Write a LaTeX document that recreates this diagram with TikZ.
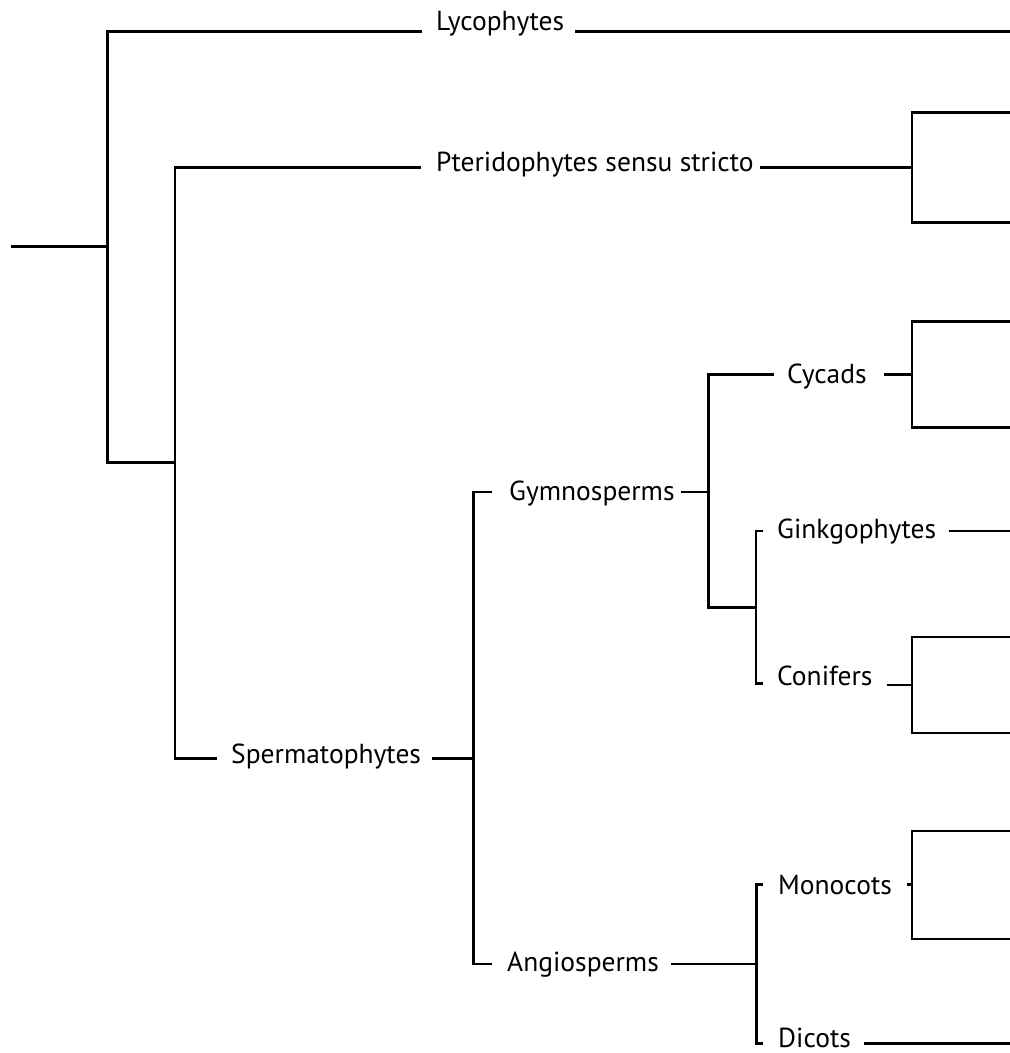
\documentclass[tikz,border=0pt]{standalone}
\usepackage{fontspec}
\setmainfont{PT Sans}
\begin{document}
\begin{tikzpicture}[x=1pt,y=-1pt,
  br/.style={line width=2.8pt,line join=miter,line cap=butt},
  lab/.style={inner sep=0pt,anchor=base west,font=\fontsize{27.5}{32}\selectfont}]
\useasboundingbox (0,0) rectangle (1010,1053);
% junctions
\coordinate (root) at (11,246.7);
\coordinate (a) at (107.3,246.7);
\coordinate (aT) at (107.3,31.7);
\coordinate (aB) at (107.3,462.7);
\coordinate (b) at (175,462.7);
\coordinate (bT) at (175,167.5);
\coordinate (bB) at (175,758.5);
\coordinate (c) at (473.5,758.5);
\coordinate (cT) at (473.5,492);
\coordinate (cB) at (473.5,964);
\coordinate (d) at (708.3,492);
\coordinate (dT) at (708.3,374.3);
\coordinate (dB) at (708.3,607.7);
\coordinate (e) at (756,607.7);
\coordinate (eT) at (756,531);
\coordinate (eB) at (756,683.5);
\coordinate (f) at (756.7,964);
\coordinate (fT) at (756.7,884.3);
\coordinate (fB) at (756.7,1043.5);
% right ends
\coordinate (lycoEnd) at (1010,31.7);
\coordinate (ginkEnd) at (1010,531);
\coordinate (dicEnd) at (1010,1043.5);
\coordinate (pB) at (912,167.5);
\coordinate (pTop) at (1010,112.5);
\coordinate (pBot) at (1010,222.5);
\coordinate (cyB) at (912,374.3);
\coordinate (cyTop) at (1010,321.7);
\coordinate (cyBot) at (1010,427.3);
\coordinate (coB) at (912,685);
\coordinate (coTop) at (1010,637);
\coordinate (coBot) at (1010,733);
\coordinate (moB) at (912,884.3);
\coordinate (moTop) at (1010,831);
\coordinate (moBot) at (1010,939);
% labels
\node[lab] (lyco) at (436,30.7) {Lycophytes};
\node[lab] (pter) at (436,171.7) {Pteridophytes sensu stricto};
\node[lab] (sperm) at (231,763) {Spermatophytes};
\node[lab] (gymno) at (509,500.7) {Gymnosperms};
\node[lab] (angio) at (507,971.7) {Angiosperms};
\node[lab] (cyc) at (787,383.3) {Cycads};
\node[lab] (gink) at (777,538.3) {Ginkgophytes};
\node[lab] (conif) at (777,685) {Conifers};
\node[lab] (mono) at (778,894.3) {Monocots};
\node[lab] (dic) at (778,1047) {Dicots};
% connectors
\draw[br] (root) -- (a);
\draw[br] ([xshift=-14pt]lyco.west |- aT) -- (aT) -- (aB) -- (b);
\draw[br] ([xshift=11pt]lyco.east |- aT) -- (lycoEnd);
\draw[br] ([xshift=-15pt]pter.west |- bT) -- (bT) -- (bB) -- ([xshift=-14pt]sperm.west |- bB);
\draw[br] ([xshift=6pt]pter.east |- bT) -- (pB);
\draw[br] (pTop) -| (pB) |- (pBot);
\draw[br] ([xshift=11pt]sperm.east |- c) -- (c);
\draw[br] ([xshift=-17pt]gymno.west |- cT) -- (cT) -- (cB) -- ([xshift=-15pt]angio.west |- cB);
\draw[br] ([xshift=6pt]gymno.east |- d) -- (d);
\draw[br] ([xshift=-13pt]cyc.west |- dT) -- (dT) -- (dB) -- (e);
\draw[br] ([xshift=17pt]cyc.east |- cyB) -- (cyB);
\draw[br] (cyTop) -| (cyB) |- (cyBot);
\draw[br] ([xshift=-14pt]gink.west |- eT) -- (eT) -- (eB) -- ([xshift=-14pt]conif.west |- eB);
\draw[br] ([xshift=13pt]gink.east |- eT) -- (ginkEnd);
\draw[br] ([xshift=14pt]conif.east |- coB) -- (coB);
\draw[br] (coTop) -| (coB) |- (coBot);
\draw[br] ([xshift=12pt]angio.east |- f) -- (f);
\draw[br] ([xshift=-15pt]mono.west |- fT) -- (fT) -- (fB) -- ([xshift=-15pt]dic.west |- fB);
\draw[br] ([xshift=15pt]mono.east |- moB) -- (moB);
\draw[br] (moTop) -| (moB) |- (moBot);
\draw[br] ([xshift=13pt]dic.east |- fB) -- (dicEnd);
\end{tikzpicture}
\end{document}
